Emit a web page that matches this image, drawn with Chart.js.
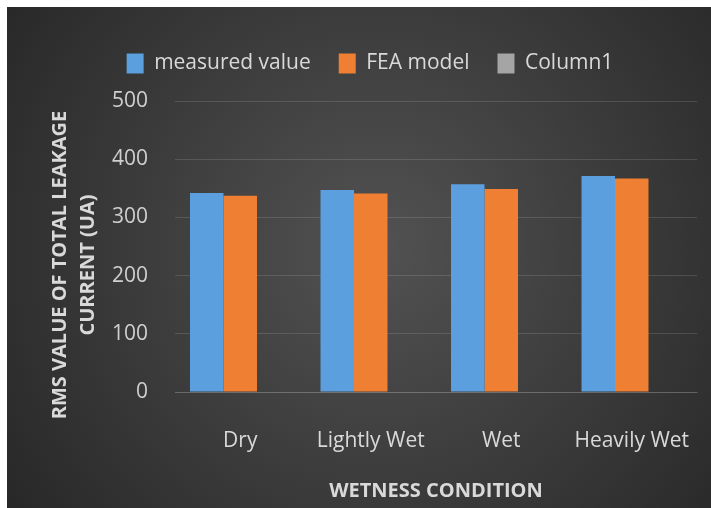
<!DOCTYPE html>
<html>
<head>
<meta charset="utf-8">
<script src="https://cdn.jsdelivr.net/npm/chart.js@4.4.1/dist/chart.umd.min.js"></script>
<style>
  html, body { margin: 0; padding: 0; background: #fff; }
  #wrap { position: absolute; left: 7px; top: 7px; width: 704px; height: 501px; }
</style>
</head>
<body>
<div id="wrap"><canvas id="leakChart" width="704" height="501"></canvas></div>
<script>
const conditions = ["Dry", "Lightly Wet", "Wet", "Heavily Wet"];
const measuredValue = [342, 347, 357, 371];
const feaModel = [337, 341, 349, 367];
const column1 = [null, null, null, null];
const yTicks = [0, 100, 200, 300, 400, 500];

const FONT = "'Open Sans', 'Noto Sans', sans-serif";
const TEXT = "#d9d9d9";

// dark radial background like the Excel chart style
const bgPlugin = {
  id: "bg",
  beforeDraw(chart) {
    const c = chart.ctx;
    const g = c.createRadialGradient(370, 240, 0, 370, 240, 470);
    g.addColorStop(0, "#525252");
    g.addColorStop(1, "#262626");
    c.save();
    c.fillStyle = g;
    c.fillRect(0, 0, chart.width, chart.height);
    c.restore();
  }
};

// extra room under the legend
const legendGap = {
  id: "legendGap",
  beforeInit(chart) {
    const fit = chart.legend.fit;
    chart.legend.fit = function () {
      fit.bind(chart.legend)();
      this.height += 17;
    };
  }
};

// two-line rotated y axis title
const yTitlePlugin = {
  id: "yTitle",
  afterDraw(chart) {
    const c = chart.ctx;
    c.save();
    c.fillStyle = TEXT;
    c.font = "bold 20px " + FONT;
    c.textAlign = "center";
    c.textBaseline = "middle";
    c.translate(0, 258);
    c.rotate(-Math.PI / 2);
    c.fillText("RMS VALUE OF TOTAL LEAKAGE", 0, 53);
    c.fillText("CURRENT (UA)", 0, 81);
    c.restore();
  }
};

const ctx = document.getElementById("leakChart").getContext("2d");
const leakChart = new Chart(ctx, {
  type: "bar",
  data: {
    labels: conditions,
    datasets: [
      { label: "measured value", data: measuredValue, backgroundColor: "#5b9fdf" },
      { label: "FEA model", data: feaModel, backgroundColor: "#ef7f32" },
      { label: "Column1", data: column1, backgroundColor: "#a5a5a5" }
    ]
  },
  options: {
    responsive: false,
    animation: false,
    layout: { padding: { top: 18, left: 36, right: 14, bottom: 0 } },
    datasets: {
      bar: { barPercentage: 1, categoryPercentage: 0.77, borderWidth: 0 }
    },
    plugins: {
      tooltip: { enabled: false },
      legend: {
        position: "top",
        labels: {
          color: TEXT,
          font: { family: FONT, size: 21 },
          boxWidth: 17,
          boxHeight: 20,
          padding: 28
        }
      }
    },
    scales: {
      y: {
        min: yTicks[0],
        max: yTicks[yTicks.length - 1],
        ticks: {
          stepSize: yTicks[1] - yTicks[0],
          color: "#cfcfcf",
          font: { family: FONT, size: 21 },
          padding: 27
        },
        grid: { color: "rgba(255,255,255,0.13)", drawTicks: false },
        border: { display: false },
        afterFit(scale) { scale.width = 132; }
      },
      x: {
        ticks: {
          color: TEXT,
          font: { family: FONT, size: 21 },
          padding: 36
        },
        grid: { display: false, drawTicks: false },
        border: { color: "rgba(255,255,255,0.13)" },
        title: {
          display: true,
          text: "WETNESS CONDITION",
          color: TEXT,
          font: { family: FONT, size: 20, weight: "bold" },
          padding: { top: 4, bottom: 5 }
        },
        afterFit(scale) {
          scale.height = 116;
          scale.paddingLeft = 0;
          scale.paddingRight = 0;
        }
      }
    }
  },
  plugins: [bgPlugin, legendGap, yTitlePlugin]
});
</script>
</body>
</html>
